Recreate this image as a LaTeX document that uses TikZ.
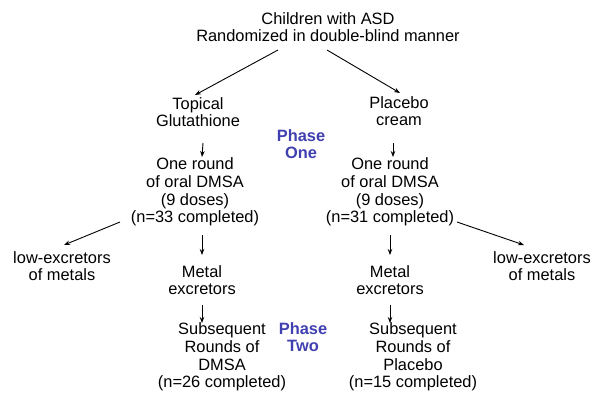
\documentclass[tikz,border=0pt]{standalone}
\usepackage{fontspec}
\setmainfont{Liberation Sans}
\usetikzlibrary{arrows.meta,calc}
\definecolor{phaseblue}{RGB}{64,64,176}
\begin{document}
\begin{tikzpicture}[x=1pt,y=-1pt,
  every node/.style={font=\fontsize{16.4}{17.6}\selectfont, align=center, inner sep=0pt},
  phase/.style={font=\fontsize{16.4}{17.6}\selectfont\bfseries, text=phaseblue},
  arr/.style={draw=black, line width=0.9pt, -{Stealth[length=6pt,width=4.5pt]}}]
\useasboundingbox (0,0) rectangle (600,404);
\node (top) at (328,27) {Children with ASD\\Randomized in double-blind manner};
\node (topical) at (198,112) {Topical\\Glutathione};
\node (placebo) at (399,111) {Placebo\\cream};
\node[phase] (phase1) at (301,144) {Phase\\One};
\node (round1) at (195,192) {One round\\of oral DMSA\\(9 doses)\\(n=33 completed)};
\node (round2) at (390,192) {One round\\of oral DMSA\\(9 doses)\\(n=31 completed)};
\node (low1) at (62,266) {low-excretors\\of metals};
\node (low2) at (542,266) {low-excretors\\of metals};
\node (metal1) at (202,280) {Metal\\excretors};
\node (metal2) at (390,280) {Metal\\excretors};
\node[phase] (phase2) at (303,337) {Phase\\Two};
\node (sub1) at (222,357) {Subsequent\\Rounds of\\DMSA\\(n=26 completed)};
\node (sub2) at (413,357) {Subsequent\\Rounds of\\Placebo\\(n=15 completed)};
\draw[arr] ($(top)+(-50,23)$) -- ($(topical)+(-3,-17)$);
\draw[arr] ($(top)+(-1,23)$) -- ($(placebo)+(1,-18)$);
\draw[arr] ($(topical)+(5,31)$) -- ($(round1)+(7,-35)$);
\draw[arr] ($(placebo)+(-6,32)$) -- ($(round2)+(3,-35)$);
\draw[arr] ($(round1)+(7,43)$) -- ($(metal1)+(0,-25)$);
\draw[arr] ($(round2)+(0,43)$) -- ($(metal2)+(0,-25)$);
\draw[arr] ($(round1)+(-75,30)$) -- ($(low1)+(2,-21)$);
\draw[arr] ($(round2)+(67,30)$) -- ($(low2)+(-18,-21)$);
\draw[arr] ($(metal1)+(0,25)$) -- ($(sub1)+(-20,-34)$);
\draw[arr] ($(metal2)+(0,25)$) -- ($(sub2)+(-23,-34)$);
\end{tikzpicture}
\end{document}
